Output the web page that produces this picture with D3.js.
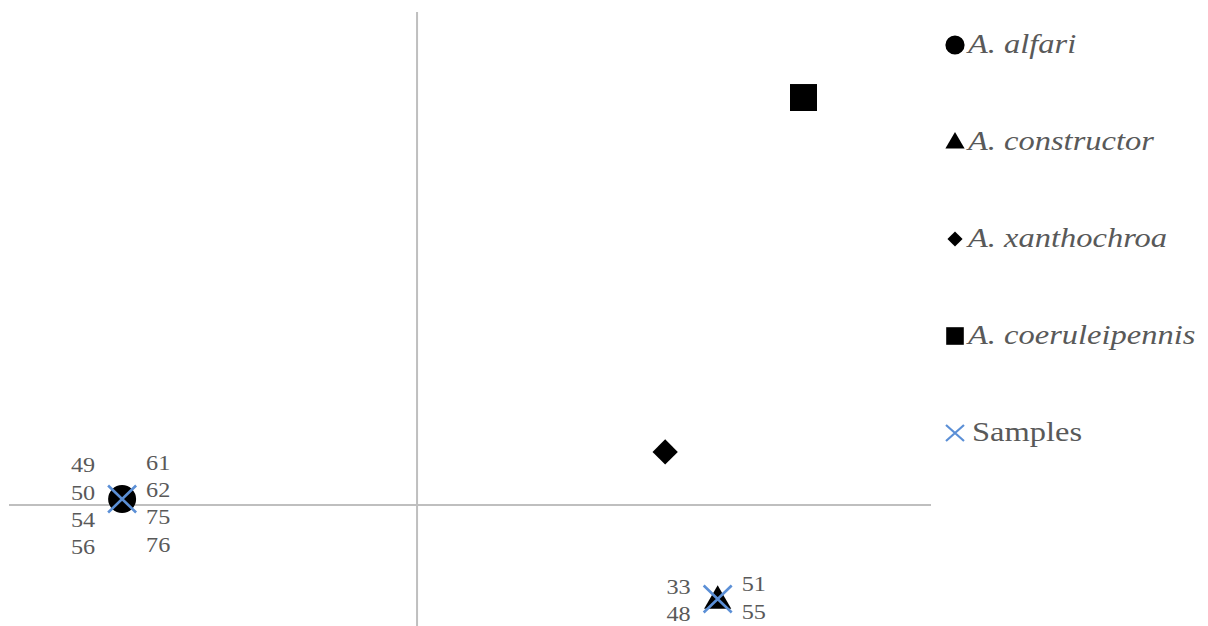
<!DOCTYPE html>
<html>
<head>
<meta charset="utf-8">
<script src="https://cdn.jsdelivr.net/npm/d3@7"></script>
<style>
  html, body { margin: 0; padding: 0; background: #fff; }
  svg { display: block; }
</style>
</head>
<body>
<svg id="chart" width="1208" height="626"></svg>
<script>
// ---- data ----
const species = ["A. alfari", "A. constructor", "A. xanthochroa", "A. coeruleipennis"];
const speciesShapes = ["circle", "triangle", "diamond", "square"];
const speciesX = [-0.983, 1.002, 0.827, 1.288];
const speciesY = [0.020, -0.313, 0.177, 1.358];

const sampleX = [-0.983, 1.002];
const sampleY = [0.020, -0.313];
const sampleLeftLabels = [["49", "50", "54", "56"], ["33", "48"]];
const sampleRightLabels = [["61", "62", "75", "76"], ["51", "55"]];

const legendLabels = ["A. alfari", "A. constructor", "A. xanthochroa", "A. coeruleipennis", "Samples"];

// ---- layout ----
const svg = d3.select("#chart");
const x = d3.scaleLinear().domain([-1.36, 1.713]).range([9, 931]);
const y = d3.scaleLinear().domain([-0.403, 1.643]).range([626, 12]);

const FONT = '"Liberation Serif"';
const axisColor = "#bfbfbf";
const textColor = "#595959";
const sampleColor = "#5b8fd6";

function addText(g, str, px, py, size, anchor, italic, stretch) {
  const t = g.append("text")
    .attr("x", px).attr("y", py)
    .attr("text-anchor", anchor)
    .style("font-family", FONT)
    .style("font-size", size + "px")
    .style("font-style", italic ? "italic" : "normal")
    .attr("fill", textColor)
    .text(str);
  const len = t.node().getComputedTextLength();
  t.attr("textLength", len * stretch).attr("lengthAdjust", "spacingAndGlyphs");
  return t;
}

// axes through origin
svg.append("line")
  .attr("x1", x(-1.36)).attr("x2", x(1.713))
  .attr("y1", y(0)).attr("y2", y(0))
  .attr("stroke", axisColor).attr("stroke-width", 2);
svg.append("line")
  .attr("x1", x(0)).attr("x2", x(0))
  .attr("y1", y(1.643)).attr("y2", y(-0.403))
  .attr("stroke", axisColor).attr("stroke-width", 2);

const symbolFor = {
  circle: d3.symbolCircle,
  triangle: d3.symbolTriangle,
  diamond: d3.symbolSquare,
  square: d3.symbolSquare
};
const sizeFor = { circle: 615, triangle: 320, diamond: 320, square: 729 };
const rotFor = { circle: 0, triangle: 0, diamond: 45, square: 0 };

// species markers
species.forEach((s, i) => {
  const sh = speciesShapes[i];
  svg.append("path")
    .attr("d", d3.symbol().type(symbolFor[sh]).size(sizeFor[sh])())
    .attr("transform", `translate(${x(speciesX[i])},${y(speciesY[i]) + (sh === "triangle" ? 2 : 0)}) rotate(${rotFor[sh]})`)
    .attr("fill", "#000");
});

// sample X markers
function xMark(g, cx, cy, hx, hy, w) {
  g.append("path")
    .attr("d", `M${cx - hx},${cy - hy}L${cx + hx},${cy + hy}M${cx - hx},${cy + hy}L${cx + hx},${cy - hy}`)
    .attr("stroke", sampleColor).attr("stroke-width", w).attr("fill", "none");
}
sampleX.forEach((sx, i) => {
  const cx = x(sx), cy = y(sampleY[i]);
  xMark(svg, cx, cy, 14, 13.5, 2.6);
  const left = sampleLeftLabels[i], right = sampleRightLabels[i];
  const n = left.length;
  const step = 27.3;
  const base = cy - (n / 2 - 1) * step;
  // keep the lowest row inside the picture
  const shift = Math.max(0, base + (n - 1) * step + 0.5 - 621);
  left.forEach((t, j) => addText(svg, t, cx - 27, base + j * step + 0.5 - shift, 22, "end", false, 1.1));
  right.forEach((t, j) => addText(svg, t, cx + 24, base + j * step - 2 - shift, 22, "start", false, 1.1));
});

// legend
const legendY = d3.scalePoint().domain(legendLabels).range([45, 433]);
const lg = svg.append("g");
legendLabels.forEach((lab, i) => {
  const cy = legendY(lab), cx = 955;
  if (i < 4) {
    const sh = speciesShapes[i];
    const lsize = { circle: 290, triangle: 160, diamond: 115, square: 310 }[sh];
    lg.append("path")
      .attr("d", d3.symbol().type(symbolFor[sh]).size(lsize)())
      .attr("transform", `translate(${cx},${cy + (sh === "triangle" ? 1 : 0)}) rotate(${rotFor[sh]})`)
      .attr("fill", "#000");
  } else {
    xMark(lg, cx, cy, 9, 8, 2.2);
  }
  addText(lg, lab, i < 4 ? 968 : 972, cy + 8, 28, "start", i < 4, 1.16);
});
</script>
</body>
</html>
